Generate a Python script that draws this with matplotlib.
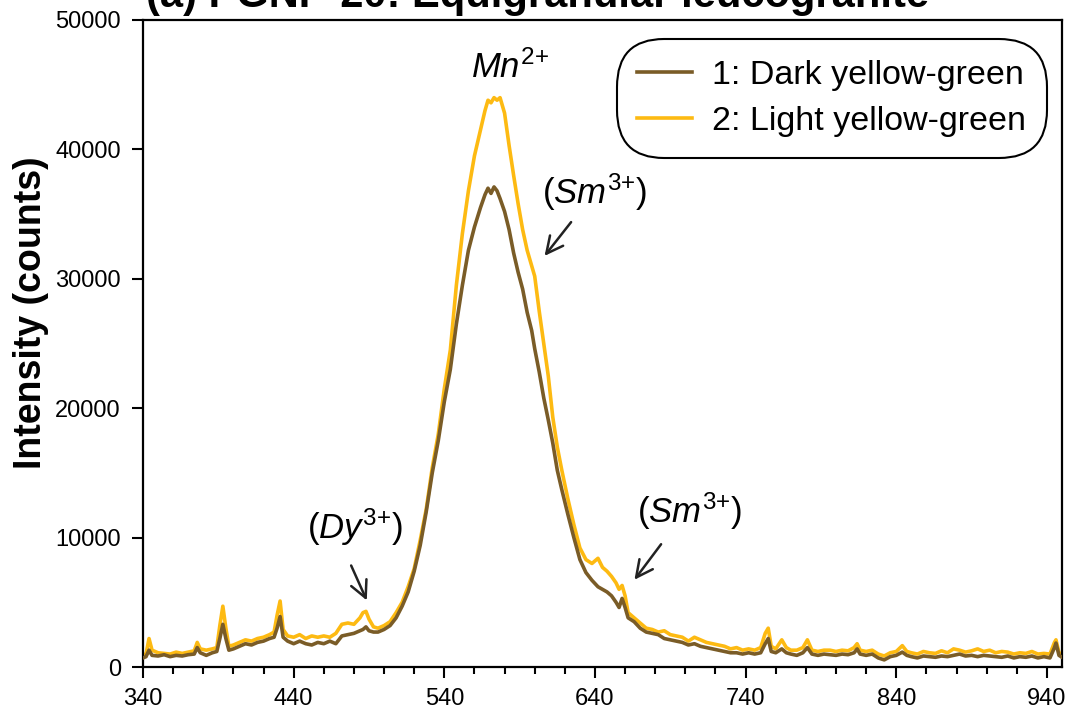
import matplotlib
matplotlib.use("Agg")
import matplotlib.pyplot as plt
from matplotlib.ticker import MultipleLocator

plt.rcParams['font.family'] = ['Liberation Sans', 'DejaVu Sans']
plt.rcParams['mathtext.fontset'] = 'custom'
plt.rcParams['mathtext.rm'] = 'Liberation Sans'
plt.rcParams['mathtext.it'] = 'Liberation Sans:italic'
plt.rcParams['mathtext.bf'] = 'Liberation Sans:bold'

title = "(a) PGNP-20: Equigranular leucogranite"
series_names = ["1: Dark yellow-green", "2: Light yellow-green"]
x_ticks = [340, 440, 540, 640, 740, 840, 940]
y_ticks = [0, 10000, 20000, 30000, 40000, 50000]

wavelength = [340, 342, 344, 346, 350, 354, 358, 362, 366, 370, 374, 376, 378, 382, 386, 389,
              391, 393, 395, 397, 400, 404, 408, 412, 416, 420, 424, 427, 429, 431, 433, 436,
              440, 444, 448, 452, 456, 460, 464, 468, 472, 476, 480, 484, 486, 488, 490, 493,
              496, 500, 504, 508, 512, 516, 520, 524, 528, 532, 536, 540, 544, 548, 552, 556,
              560, 564, 567, 569, 571, 573, 575, 577, 580, 583, 586, 589, 592, 595, 598, 600,
              603, 606, 609, 612, 615, 618, 622, 626, 630, 634, 638, 642, 645, 648, 651, 654,
              656, 658, 660, 662, 666, 670, 674, 678, 682, 686, 690, 694, 698, 702, 706, 710,
              714, 718, 722, 726, 730, 734, 738, 742, 746, 750, 753, 755, 757, 760, 764, 767,
              770, 774, 778, 781, 784, 788, 792, 796, 800, 804, 808, 812, 814, 816, 820, 824,
              828, 832, 836, 840, 844, 847, 850, 854, 858, 862, 866, 870, 874, 878, 882, 886,
              890, 894, 898, 902, 906, 910, 914, 918, 922, 926, 930, 934, 938, 942, 945, 946,
              948, 950]

dark = [700, 800, 1300, 900, 850, 950, 800, 900, 850, 950, 1000, 1500, 1100, 900, 1100, 1200,
        2200, 3300, 2200, 1300, 1400, 1600, 1800, 1700, 1900, 2000, 2200, 2300, 3000, 3900, 2300, 2000,
        1800, 2000, 1800, 1700, 1900, 1800, 2000, 1800, 2400, 2500, 2600, 2800, 2900, 3100, 2800, 2700,
        2700, 2900, 3200, 3800, 4700, 5800, 7400, 9400, 12000, 15000, 17500, 20500, 23000, 26500, 29500, 32200,
        34000, 35500, 36500, 37000, 36600, 37100, 36800, 36200, 35200, 33800, 32000, 30500, 29200, 27400, 26000, 24600,
        22800, 20800, 19100, 17300, 15200, 13700, 11800, 10000, 8300, 7300, 6700, 6200, 6000, 5800, 5500, 5000,
        4600, 5300, 4600, 3800, 3500, 3000, 2700, 2600, 2500, 2200, 2100, 2000, 1900, 1700, 1800, 1600,
        1500, 1400, 1300, 1200, 1100, 1100, 1000, 1100, 1000, 1100, 1800, 2200, 1200, 1100, 1400, 1100,
        1000, 900, 1100, 1500, 1000, 900, 1000, 950, 900, 1000, 950, 1100, 1400, 1000, 900, 1000,
        700, 550, 800, 900, 1150, 900, 800, 700, 850, 800, 750, 850, 800, 900, 1000, 850,
        900, 800, 900, 850, 800, 750, 850, 700, 800, 750, 850, 700, 800, 700, 1500, 1850,
        900, 750]

light = [950, 1000, 2200, 1300, 1100, 1050, 1000, 1150, 1050, 1150, 1250, 1900, 1400, 1300, 1400, 1500,
         3200, 4700, 3000, 1600, 1700, 1900, 2100, 2000, 2200, 2300, 2500, 2700, 4000, 5100, 2900, 2400,
         2300, 2500, 2200, 2400, 2300, 2400, 2300, 2600, 3300, 3400, 3300, 3800, 4200, 4300, 3700, 3100,
         3000, 3200, 3500, 4200, 5000, 6200, 7600, 9800, 12200, 15400, 18000, 21500, 24500, 29500, 33500, 36800,
         39500, 41500, 43000, 43800, 43600, 44000, 43800, 44000, 42800, 40300, 38000, 35800, 33800, 32200, 31000, 30200,
         27500, 25000, 22500, 19300, 17000, 15200, 13000, 11000, 9200, 8300, 8000, 8400, 7700, 7400, 7000, 6500,
         6000, 6300, 5500, 4200, 3800, 3400, 3000, 2900, 2700, 2800, 2500, 2400, 2300, 2000, 2300, 2100,
         1900, 1800, 1700, 1600, 1400, 1500, 1300, 1400, 1300, 1500, 2600, 3000, 1600, 1400, 2100, 1500,
         1300, 1300, 1500, 2100, 1300, 1200, 1300, 1300, 1200, 1300, 1250, 1500, 1800, 1300, 1200, 1300,
         1000, 850, 1100, 1200, 1650, 1200, 1100, 1000, 1200, 1100, 1050, 1250, 1100, 1400, 1300, 1150,
         1250, 1400, 1200, 1300, 1100, 1200, 1150, 1000, 1100, 1050, 1200, 1000, 1050, 1000, 1900, 2100,
         1100, 1000]

DARK_COLOR = '#7A5C27'
LIGHT_COLOR = '#FDBA12'

fig = plt.figure(figsize=(10.71, 7.14), dpi=100)
ax = fig.add_axes([143 / 1071, 1 - 667 / 714, (1062 - 143) / 1071, (667 - 20) / 714])

l2, = ax.plot(wavelength, light, color=LIGHT_COLOR, lw=2.6, label=series_names[1], zorder=2)
l1, = ax.plot(wavelength, dark, color=DARK_COLOR, lw=2.6, label=series_names[0], zorder=3)

ax.set_xlim(340, 950)
ax.set_ylim(0, 50000)
ax.set_xticks(x_ticks)
ax.set_yticks(y_ticks)
ax.xaxis.set_minor_locator(MultipleLocator(20))
ax.tick_params(axis='both', which='major', direction='out', length=8, width=1.5,
               labelsize=17, top=False, right=False)
ax.tick_params(axis='x', which='minor', direction='out', length=5, width=1.5)
ax.tick_params(axis='x', which='major', pad=7)
ax.tick_params(axis='y', which='major', pad=8)
for s in ax.spines.values():
    s.set_linewidth(1.6)

ax.set_ylabel("Intensity (counts)", fontsize=27, fontweight='bold')
ax.yaxis.set_label_coords(-0.1025, 0.548)

leg = ax.legend(handles=[l1, l2], loc='upper right', bbox_to_anchor=((1038 - 143) / 919, (667 - 48) / 647),
                borderaxespad=0, fontsize=24.5, frameon=True, fancybox=True, edgecolor='black',
                handlelength=1.6, handletextpad=0.6, labelspacing=0.45, borderpad=0.35)
leg.get_frame().set_linewidth(1.5)
leg.get_frame().set_alpha(1)
leg.get_frame().set_boxstyle('round', pad=0.25, rounding_size=1.4)

ann = dict(fontsize=25, ha='center', va='center')
ax.text(583.5, 46300, r'$Mn^{2{+}}$', **ann)
ax.text(640, 36700, r'$(Sm^{3{+}})$', **ann)
ax.text(480.7, 10800, r'$(Dy^{3{+}})$', **ann)
ax.text(703, 12000, r'$(Sm^{3{+}})$', **ann)

arrow = dict(arrowstyle='->', color='#222222', lw=1.8, mutation_scale=30)
ax.annotate('', xy=(489.3, 4950), xytext=(477.4, 8040), arrowprops=arrow)
ax.annotate('', xy=(605.4, 31600), xytext=(625.3, 34550), arrowprops=arrow)
ax.annotate('', xy=(665.1, 6570), xytext=(685, 9660), arrowprops=arrow)

fig.text(538 / 1071, 1 - 7 / 714, title, fontsize=30, fontweight='bold', ha='center', va='baseline')

fig.savefig('out.png', dpi=100)
